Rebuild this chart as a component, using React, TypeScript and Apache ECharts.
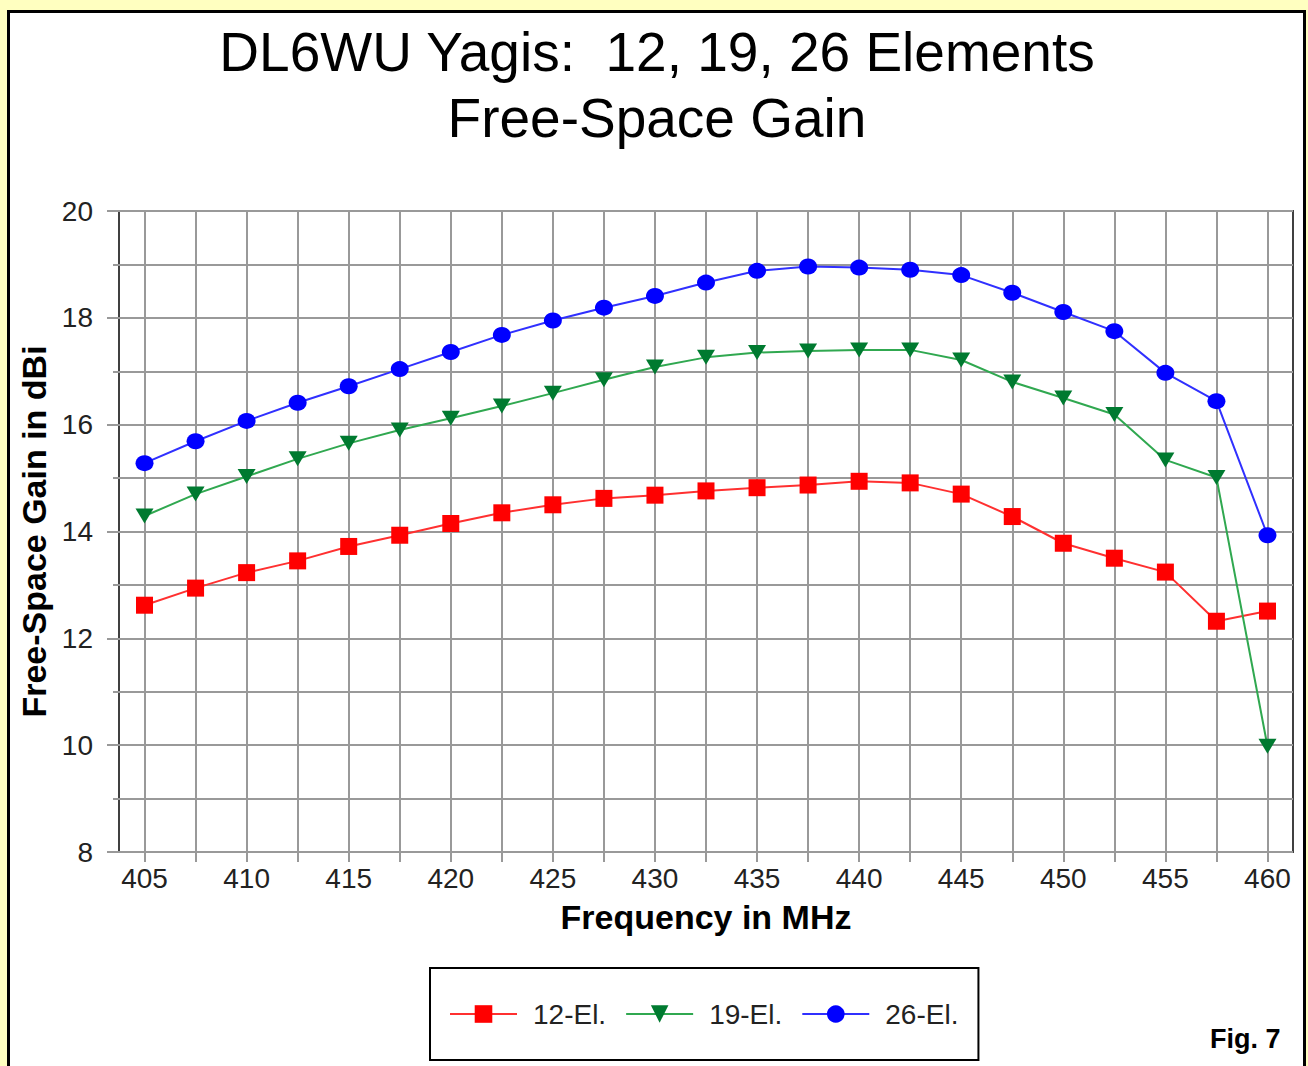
import React, { useEffect, useRef } from "react";
import * as echarts from "echarts";

const freqs = [405, 407.5, 410, 412.5, 415, 417.5, 420, 422.5, 425, 427.5, 430, 432.5, 435, 437.5, 440, 442.5, 445, 447.5, 450, 452.5, 455, 457.5, 460];
const gain12 = [12.62, 12.94, 13.23, 13.45, 13.72, 13.93, 14.15, 14.35, 14.5, 14.62, 14.68, 14.76, 14.82, 14.87, 14.94, 14.91, 14.7, 14.28, 13.78, 13.5, 13.24, 12.32, 12.51];
const gain19 = [14.29, 14.7, 15.03, 15.36, 15.65, 15.9, 16.12, 16.35, 16.59, 16.84, 17.08, 17.26, 17.35, 17.38, 17.4, 17.4, 17.21, 16.8, 16.5, 16.19, 15.34, 15.01, 9.98];
const gain26 = [15.28, 15.69, 16.07, 16.41, 16.72, 17.04, 17.36, 17.68, 17.95, 18.19, 18.41, 18.66, 18.88, 18.96, 18.94, 18.9, 18.8, 18.47, 18.11, 17.75, 16.97, 16.44, 13.93];
const xLabels = [405, 410, 415, 420, 425, 430, 435, 440, 445, 450, 455, 460];
const xTicks = freqs;
const seriesNames = ["12-El.", "19-El.", "26-El."];

const FONT = "Arial, 'Liberation Sans', sans-serif";

export default function App() {
  const ref = useRef<HTMLDivElement>(null);
  useEffect(() => {
    if (!ref.current) return;
    const chart = echarts.init(ref.current, null, { renderer: "svg" });
    const pair = (ys: number[]) => freqs.map((f, i) => [f, ys[i]]);
    chart.setOption({
      animation: false,
      backgroundColor: "#FFFFC0",
      textStyle: { fontFamily: FONT },
      title: {
        text: "DL6WU Yagis:  12, 19, 26 Elements\nFree-Space Gain",
        left: 657,
        textAlign: "center",
        top: 19,
        padding: 0,
        textStyle: { fontSize: 55, fontWeight: "normal", lineHeight: 66, color: "#000", fontFamily: FONT },
      },
      graphic: [
        {
          type: "rect",
          z: -10,
          shape: { x: 8.5, y: 11.5, width: 1296, height: 1070 },
          style: { fill: "#fff", stroke: "#000", lineWidth: 3 },
        },
        {
          type: "text",
          left: 1210,
          top: 1025,
          style: { text: "Fig. 7", fontSize: 27, fontWeight: "bold", fill: "#000", fontFamily: "'Liberation Sans Narrow', 'Arial Narrow', Arial, sans-serif" },
        },
      ],
      grid: {
        left: 119,
        right: 15,
        top: 211,
        bottom: 214,
        show: true,
        backgroundColor: "#fff",
        borderColor: "#404040",
        borderWidth: 2,
        z: 0,
      },
      legend: {
        left: 430,
        top: 968,
        orient: "horizontal",
        padding: [32, 20, 32, 19],
        itemGap: 19,
        itemWidth: 67,
        itemHeight: 22,
        borderColor: "#000",
        borderWidth: 2,
        backgroundColor: "#fff",
        data: seriesNames,
        textStyle: { fontSize: 28, color: "#222", padding: [0, 0, 0, 11], fontFamily: FONT },
      },
      xAxis: {
        type: "value",
        min: 403.75,
        max: 461.25,
        name: "Frequency in MHz",
        nameLocation: "middle",
        nameGap: 48,
        nameTextStyle: { fontSize: 34, fontWeight: "bold", color: "#000", fontFamily: FONT },
        axisLine: { show: false },
        axisTick: { show: true, customValues: xTicks, length: 10, lineStyle: { color: "#999", width: 2 } },
        axisLabel: { customValues: xLabels, fontSize: 28, color: "#222", margin: 12, fontFamily: FONT },
        splitLine: { show: true, lineStyle: { color: "#999", width: 2 } },
      },
      yAxis: {
        type: "value",
        min: 8,
        max: 20,
        interval: 2,
        name: "Free-Space Gain in dBi",
        nameLocation: "middle",
        nameGap: 66,
        nameTextStyle: { fontSize: 34, fontWeight: "bold", color: "#000", fontFamily: FONT },
        axisLine: { show: false },
        axisTick: { show: true, length: 12, lineStyle: { color: "#999", width: 2 } },
        minorTick: { show: true, splitNumber: 2, length: 6, lineStyle: { color: "#999", width: 2 } },
        axisLabel: { fontSize: 28, color: "#222", margin: 26, fontFamily: FONT },
        splitLine: { show: true, lineStyle: { color: "#999", width: 2 } },
        minorSplitLine: { show: true, lineStyle: { color: "#999", width: 2 } },
      },
      series: [
        {
          name: seriesNames[0],
          type: "line",
          data: pair(gain12),
          symbol: "rect",
          symbolSize: 17,
          lineStyle: { color: "#FF3030", width: 2 },
          itemStyle: { color: "#FF0000" },
          z: 3,
        },
        {
          name: seriesNames[1],
          type: "line",
          data: pair(gain19),
          symbol: "triangle",
          symbolRotate: 180,
          symbolSize: [18, 15],
          lineStyle: { color: "#30A850", width: 2 },
          itemStyle: { color: "#007A30" },
          z: 3,
        },
        {
          name: seriesNames[2],
          type: "line",
          data: pair(gain26),
          symbol: "circle",
          symbolSize: [18, 16],
          lineStyle: { color: "#3030FF", width: 2 },
          itemStyle: { color: "#0000FF" },
          z: 3,
        },
      ],
    });
    return () => chart.dispose();
  }, []);
  return <div ref={ref} style={{ position: "absolute", left: 0, top: 0, width: 1308, height: 1066 }} />;
}
